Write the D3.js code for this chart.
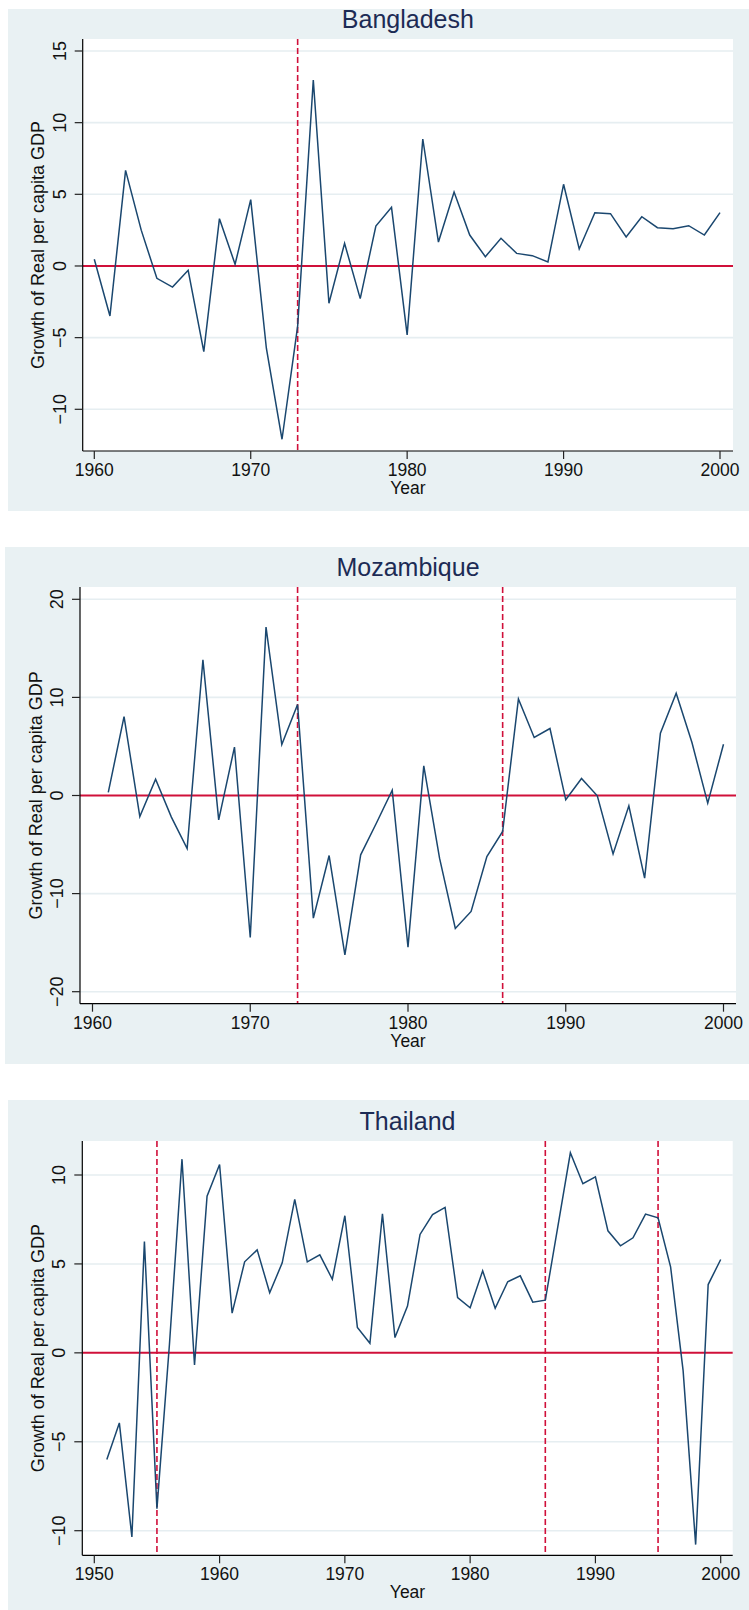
<!DOCTYPE html>
<meta charset="utf-8">
<style>
body { margin: 0; background: #fff; }
svg text { font-family: "Liberation Sans", Arial, sans-serif; }
</style>
<svg id="chart" width="749" height="1610"></svg>
<script src="https://d3js.org/d3.v7.min.js"></script>
<script>
// growth of real per capita GDP
var bdYears = [1960,1961,1962,1963,1964,1965,1966,1967,1968,1969,1970,1971,1972,1973,1974,1975,1976,1977,1978,1979,
               1980,1981,1982,1983,1984,1985,1986,1987,1988,1989,1990,1991,1992,1993,1994,1995,1996,1997,1998,1999,2000];
var bdGrowth = [0.47,-3.49,6.67,2.5,-0.86,-1.47,-0.3,-5.98,3.3,0.12,4.63,-5.74,-12.09,-4.2,12.98,-2.6,1.58,-2.28,2.79,4.09,
                -4.81,8.86,1.67,5.16,2.16,0.65,1.93,0.88,0.72,0.28,5.7,1.19,3.72,3.65,2.02,3.44,2.67,2.6,2.81,2.16,3.72];
var bdBreaks = [1973];

var mzYears = [1961,1962,1963,1964,1965,1966,1967,1968,1969,1970,1971,1972,1973,1974,1975,1976,1977,1978,1979,
               1980,1981,1982,1983,1984,1985,1986,1987,1988,1989,1990,1991,1992,1993,1994,1995,1996,1997,1998,1999,2000];
var mzGrowth = [0.31,8.05,-2.14,1.66,-2.2,-5.4,13.83,-2.48,4.93,-14.47,17.16,5.2,9.28,-12.5,-6.12,-16.24,-6.05,-2.8,0.54,
                -15.46,3.02,-6.39,-13.56,-11.82,-6.22,-3.67,9.85,5.91,6.83,-0.44,1.73,-0.03,-5.95,-1.05,-8.43,6.35,10.43,5.4,-0.78,5.23];
var mzBreaks = [1973, 1986];

var thYears = [1951,1952,1953,1954,1955,1956,1957,1958,1959,1960,1961,1962,1963,1964,1965,1966,1967,1968,1969,
               1970,1971,1972,1973,1974,1975,1976,1977,1978,1979,1980,1981,1982,1983,1984,1985,1986,1987,1988,1989,
               1990,1991,1992,1993,1994,1995,1996,1997,1998,1999,2000];
var thGrowth = [-6.0,-3.94,-10.35,6.26,-8.76,0.5,10.89,-0.68,8.81,10.59,2.23,5.12,5.79,3.38,5.06,8.63,5.12,5.51,4.14,
                7.71,1.43,0.54,7.82,0.86,2.63,6.66,7.78,8.18,3.11,2.53,4.61,2.51,4.0,4.33,2.85,2.96,7.1,11.25,9.51,
                9.9,6.86,6.02,6.47,7.8,7.59,4.84,-1.0,-10.78,3.84,5.25];
var thBreaks = [1955, 1986, 1995];

var bdXTicks = [1960,1970,1980,1990,2000], bdYTicks = [15,10,5,0,-5,-10];
var mzXTicks = [1960,1970,1980,1990,2000], mzYTicks = [20,10,0,-10,-20];
var thXTicks = [1950,1960,1970,1980,1990,2000], thYTicks = [10,5,0,-5,-10];

var svg = d3.select('#chart');
var lineColor = '#1a476f', redColor = '#d0103a', bgColor = '#e9f1f3', gridColor = '#e6eef1';

// layout of each panel: background box, plot box, and where two ticks fall
var panels = [
  {title: 'Bangladesh', years: bdYears, values: bdGrowth, breaks: bdBreaks, xt: bdXTicks, yt: bdYTicks,
   bg: [8, 9, 741, 502], plot: [82.7, 39, 733, 451],
   xd: [1960, 2000], xr: [94.3, 720], yd: [15, -10], yr: [51, 409.3]},
  {title: 'Mozambique', years: mzYears, values: mzGrowth, breaks: mzBreaks, xt: mzXTicks, yt: mzYTicks,
   bg: [5, 547, 744, 517], plot: [80, 587, 736, 1003.7],
   xd: [1960, 2000], xr: [92.5, 723.5], yd: [20, -20], yr: [599.3, 991.7]},
  {title: 'Thailand', years: thYears, values: thGrowth, breaks: thBreaks, xt: thXTicks, yt: thYTicks,
   bg: [8, 1100, 741, 510], plot: [82.3, 1141, 732.7, 1555.3],
   xd: [1950, 2000], xr: [94.3, 720.7], yd: [10, -10], yr: [1175, 1530.7]}
];

function fmt(v) {
  return v < 0 ? '\u2212' + Math.abs(v) : String(v);
}

panels.forEach(function (p) {
  var g = svg.append('g');
  var x = d3.scaleLinear().domain(p.xd).range(p.xr);
  var y = d3.scaleLinear().domain(p.yd).range(p.yr);
  var left = p.plot[0], top = p.plot[1], right = p.plot[2], bottom = p.plot[3];
  var cx = (left + right) / 2, cy = (top + bottom) / 2;

  g.append('rect').attr('x', p.bg[0]).attr('y', p.bg[1]).attr('width', p.bg[2]).attr('height', p.bg[3])
    .attr('fill', bgColor);
  g.append('rect').attr('x', left).attr('y', top).attr('width', right - left).attr('height', bottom - top)
    .attr('fill', '#fff');

  // grid lines
  g.append('g').selectAll('line').data(p.yt.filter(function (d) { return d !== 0 })).enter().append('line')
    .attr('x1', left).attr('x2', right)
    .attr('y1', function (d) { return y(d) }).attr('y2', function (d) { return y(d) })
    .attr('stroke', gridColor).attr('stroke-width', 1.6);

  // zero line
  g.append('line').attr('x1', left).attr('x2', right).attr('y1', y(0)).attr('y2', y(0))
    .attr('stroke', redColor).attr('stroke-width', 2);

  // break years
  g.append('g').selectAll('line').data(p.breaks).enter().append('line')
    .attr('x1', function (d) { return x(d) }).attr('x2', function (d) { return x(d) })
    .attr('y1', top).attr('y2', bottom)
    .attr('stroke', redColor).attr('stroke-width', 1.6).attr('stroke-dasharray', '6,3');

  var pts = p.years.map(function (yr, i) { return [yr, p.values[i]] });
  g.append('path').datum(pts)
    .attr('d', d3.line().x(function (d) { return x(d[0]) }).y(function (d) { return y(d[1]) }))
    .attr('fill', 'none').attr('stroke', lineColor).attr('stroke-width', 1.5)
    .attr('stroke-linejoin', 'miter');

  // axes
  g.append('line').attr('x1', left).attr('x2', left).attr('y1', top).attr('y2', bottom)
    .attr('stroke', '#000').attr('stroke-width', 1.2);
  g.append('line').attr('x1', left).attr('x2', right).attr('y1', bottom).attr('y2', bottom)
    .attr('stroke', '#000').attr('stroke-width', 1.2);

  g.append('g').selectAll('line').data(p.yt).enter().append('line')
    .attr('x1', left - 8).attr('x2', left)
    .attr('y1', function (d) { return y(d) }).attr('y2', function (d) { return y(d) })
    .attr('stroke', '#222').attr('stroke-width', 1.2);
  g.append('g').selectAll('text').data(p.yt).enter().append('text')
    .attr('transform', function (d) { return 'translate(' + (left - 17) + ',' + y(d) + ') rotate(-90)' })
    .attr('text-anchor', 'middle').attr('font-size', 18).attr('fill', '#111')
    .text(fmt);

  g.append('g').selectAll('line').data(p.xt).enter().append('line')
    .attr('x1', function (d) { return x(d) }).attr('x2', function (d) { return x(d) })
    .attr('y1', bottom).attr('y2', bottom + 8)
    .attr('stroke', '#222').attr('stroke-width', 1.2);
  g.append('g').selectAll('text').data(p.xt).enter().append('text')
    .attr('x', function (d) { return x(d) }).attr('y', bottom + 25)
    .attr('text-anchor', 'middle').attr('font-size', 17.5).attr('fill', '#111')
    .text(fmt);

  g.append('text').attr('x', cx).attr('y', bottom + 43).attr('text-anchor', 'middle')
    .attr('font-size', 17.5).attr('fill', '#111').text('Year');
  g.append('text').attr('transform', 'translate(' + (left - 38.5) + ',' + cy + ') rotate(-90)')
    .attr('text-anchor', 'middle').attr('font-size', 18).attr('fill', '#111')
    .text('Growth of Real per capita GDP');

  g.append('text').attr('x', cx).attr('y', top - 11).attr('text-anchor', 'middle')
    .attr('font-size', 25).attr('fill', '#1c2b55').text(p.title);
});
</script>
